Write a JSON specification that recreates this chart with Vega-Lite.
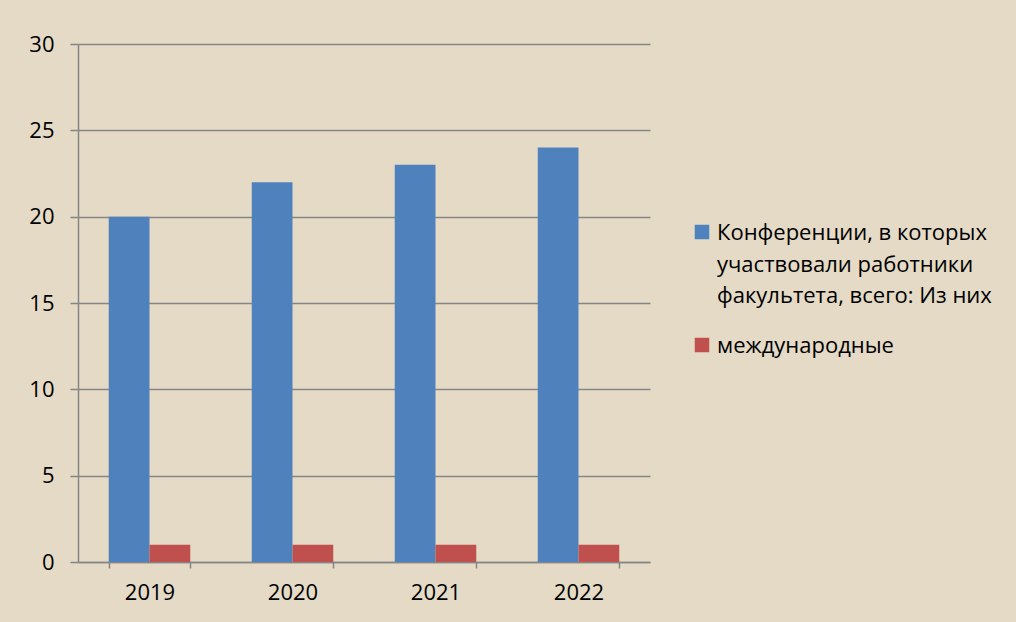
{
  "$schema": "https://vega.github.io/schema/vega-lite/v6.json",
  "autosize": "none",
  "width": 572,
  "height": 518,
  "padding": {"left": 78, "top": 44, "right": 366, "bottom": 60},
  "background": "#E4DAC6",
  "data": {
    "values": [
      {"year": "2019", "series": "Конференции, в которых участвовали работники факультета, всего: Из них", "value": 20},
      {"year": "2019", "series": "международные", "value": 1},
      {"year": "2020", "series": "Конференции, в которых участвовали работники факультета, всего: Из них", "value": 22},
      {"year": "2020", "series": "международные", "value": 1},
      {"year": "2021", "series": "Конференции, в которых участвовали работники факультета, всего: Из них", "value": 23},
      {"year": "2021", "series": "международные", "value": 1},
      {"year": "2022", "series": "Конференции, в которых участвовали работники факультета, всего: Из них", "value": 24},
      {"year": "2022", "series": "международные", "value": 1}
    ]
  },
  "mark": {"type": "bar"},
  "encoding": {
    "x": {
      "field": "year", "type": "nominal", "title": null,
      "scale": {"paddingInner": 0.43, "paddingOuter": 0.215},
      "axis": {
        "labelAngle": 0, "labelFont": "Open Sans", "labelFontSize": 22, "labelColor": "#000000",
        "labelPadding": 14, "tickBand": "extent", "tickSize": 6, "tickColor": "#868686",
        "domainColor": "#868686", "domainWidth": 1.5, "tickWidth": 1.5
      }
    },
    "xOffset": {"field": "series", "type": "nominal", "sort": null},
    "y": {
      "field": "value", "type": "quantitative", "title": null,
      "scale": {"domain": [0, 30], "nice": false},
      "axis": {
        "values": [0, 5, 10, 15, 20, 25, 30],
        "labelFont": "Open Sans", "labelFontSize": 22, "labelColor": "#000000",
        "labelPadding": 16, "tickSize": 8, "tickColor": "#868686", "tickWidth": 1.5,
        "domainColor": "#868686", "domainWidth": 1.5,
        "grid": true, "gridColor": "#868686", "gridWidth": 1.5
      }
    },
    "color": {
      "field": "series", "type": "nominal", "sort": null,
      "scale": {"range": ["#4F81BD", "#C0504D"]},
      "legend": {
        "title": null, "orient": "none", "legendX": 613, "legendY": 177,
        "symbolType": "square", "symbolSize": 210, "symbolStrokeWidth": 0, "symbolOpacity": 1,
        "labelFont": "Open Sans", "labelFontSize": 22, "labelColor": "#000000",
        "labelLimit": 400, "labelOffset": 4, "labelBaseline": "alphabetic",
        "rowPadding": 27,
        "labelExpr": "datum.label == 'международные' ? datum.label : ['Конференции, в которых', 'участвовали работники', 'факультета, всего: Из них']",
        "encode": {
          "labels": {"update": {"lineHeight": {"value": 31.5}, "dy": {"value": 8}}}
        }
      }
    }
  },
  "config": {"view": {"stroke": null}}
}
